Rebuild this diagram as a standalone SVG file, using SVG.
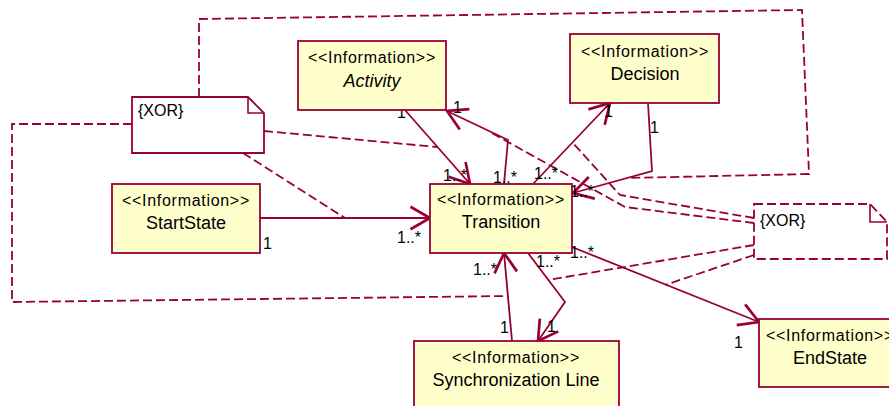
<svg xmlns="http://www.w3.org/2000/svg" width="889" height="406" viewBox="0 0 889 406">
<style>
.box{fill:#ffffcc;stroke:#990033;stroke-width:1.8}
.note{fill:#ffffff;stroke:#990033;stroke-width:1.8}
.dnote{fill:#ffffff;stroke:#990033;stroke-width:1.8;stroke-dasharray:9 4}
.fold{fill:none;stroke:#990033;stroke-width:1.6}
.st{font-family:"Liberation Sans",Arial,sans-serif;font-size:16px;letter-spacing:0.7px;text-anchor:middle;fill:#000}
.nm{font-family:"Liberation Sans",Arial,sans-serif;font-size:18px;text-anchor:middle;fill:#000}
.tx{font-family:"Liberation Sans",Arial,sans-serif;font-size:16px;fill:#000}
.lbl{font-family:"Liberation Sans",Arial,sans-serif;font-size:16px;fill:#000}
.as{fill:none;stroke:#990033;stroke-width:1.8}
.dl{fill:none;stroke:#990033;stroke-width:1.8;stroke-dasharray:9 4}
</style>
<defs>
<marker id="arr" markerUnits="userSpaceOnUse" markerWidth="30" markerHeight="30" viewBox="-16 -10 20 20" refX="0" refY="0" orient="auto" overflow="visible">
<path d="M-13,-7.5 L0,0 L-13,7.5" fill="none" stroke="#990033" stroke-width="1.8"/>
</marker>
</defs>

<g id="connectors">
<path class="as" d="M260,218 H430" marker-end="url(#arr)"/>
<path class="as" d="M405,110 L470,184" marker-end="url(#arr)"/>
<path class="as" d="M504,184 L508,140 L447,111" marker-end="url(#arr)"/>
<path class="as" d="M533,184 L610,103" marker-end="url(#arr)"/>
<path class="as" d="M648,103 L652,171 L573,193" marker-end="url(#arr)"/>
<path class="as" d="M572,247 L759,322" marker-end="url(#arr)"/>
<path class="as" d="M512,341 L504,253" marker-end="url(#arr)"/>
<path class="as" d="M528,253 L565,302 L538,341" marker-end="url(#arr)"/>

<path class="dl" d="M243,153 L345,218"/>
<path class="dl" d="M264,131 L437,147"/>
<path class="dl" d="M199,97 V19 L802,10 L809,174 L627,178"/>
<path class="dl" d="M132,124 H12 V302 L508,296"/>
<path class="dl" d="M754,218 L620,195 L573,143"/>
<path class="dl" d="M754,223 L625,207 L490,132"/>
<path class="dl" d="M754,245 L548,280"/>
<path class="dl" d="M754,255 L665,285"/>

<text class="lbl" x="263" y="249">1</text>
<text class="lbl" x="397" y="243">1..*</text>
<text class="lbl" x="397" y="118">1</text>
<text class="lbl" x="443" y="181">1..*</text>
<text class="lbl" x="453" y="113">1</text>
<text class="lbl" x="493" y="183">1..*</text>
<text class="lbl" x="604" y="117">1</text>
<text class="lbl" x="534" y="179">1..*</text>
<text class="lbl" x="650" y="133">1</text>
<text class="lbl" x="570" y="197">1..*</text>
<text class="lbl" x="570" y="258">1..*</text>
<text class="lbl" x="734" y="348">1</text>
<text class="lbl" x="473" y="275">1..*</text>
<text class="lbl" x="500" y="333">1</text>
<text class="lbl" x="536" y="267">1..*</text>
<text class="lbl" x="547" y="332">1</text>
</g>

<g id="activity">
<rect class="box" x="298" y="41" width="148" height="69"/>
<text class="st" x="372" y="63">&lt;&lt;Information&gt;&gt;</text>
<text class="nm" x="372" y="87" font-style="italic">Activity</text>
</g>
<g id="decision">
<rect class="box" x="570" y="34" width="149" height="69"/>
<text class="st" x="645" y="57">&lt;&lt;Information&gt;&gt;</text>
<text class="nm" x="645" y="80">Decision</text>
</g>
<g id="startstate">
<rect class="box" x="112" y="184" width="148" height="69"/>
<text class="st" x="186" y="206">&lt;&lt;Information&gt;&gt;</text>
<text class="nm" x="186" y="229">StartState</text>
</g>
<g id="transition">
<rect class="box" x="430" y="184" width="142" height="69"/>
<text class="st" x="501" y="205">&lt;&lt;Information&gt;&gt;</text>
<text class="nm" x="501" y="228">Transition</text>
</g>
<g id="syncline">
<rect class="box" x="414" y="341" width="205" height="80"/>
<text class="st" x="516" y="363">&lt;&lt;Information&gt;&gt;</text>
<text class="nm" x="516" y="386">Synchronization Line</text>
</g>
<g id="endstate">
<rect class="box" x="759" y="319" width="142" height="68"/>
<text class="st" x="830" y="341">&lt;&lt;Information&gt;&gt;</text>
<text class="nm" x="830" y="364">EndState</text>
</g>
<g id="xor1">
<path class="note" d="M132,97 H248 L264,113 V153 H132 Z"/>
<path class="fold" d="M248,97 V113 H264"/>
<text class="tx" x="138" y="116">{XOR}</text>
</g>
<g id="xor2">
<path class="dnote" d="M754,204 H870 L887,222 V259 H754 Z"/>
<path class="fold" d="M870,204 V222 H887"/>
<text class="tx" x="760" y="226">{XOR}</text>
</g>
</svg>
